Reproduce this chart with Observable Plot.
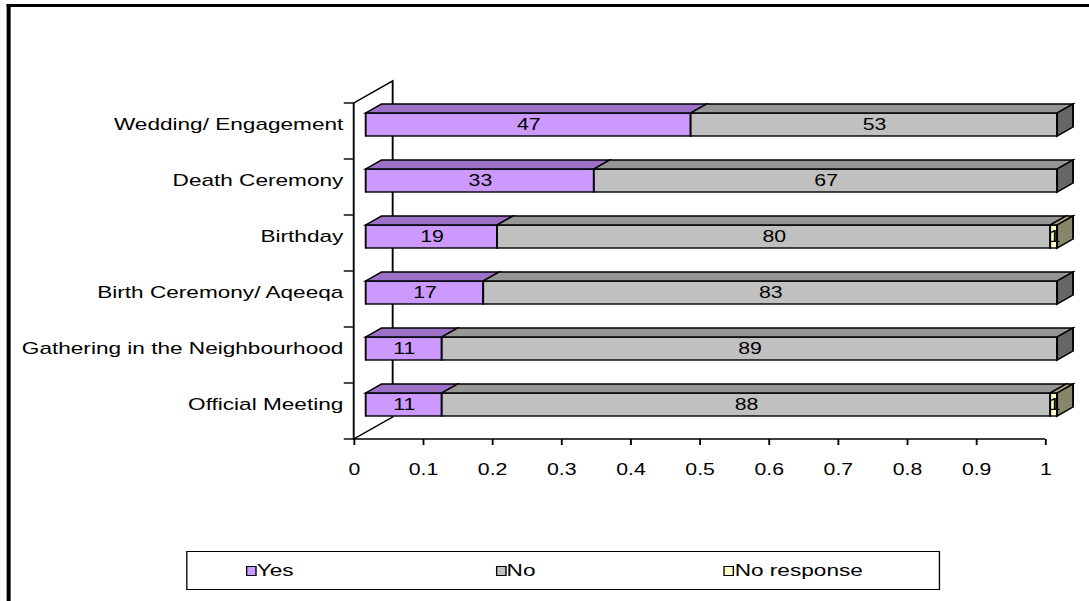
<!DOCTYPE html>
<html>
<head>
<meta charset="utf-8">
<script src="https://cdn.jsdelivr.net/npm/d3@7"></script>
<script src="https://cdn.jsdelivr.net/npm/@observablehq/plot@0.6"></script>
<style>
  html, body { margin: 0; padding: 0; background: #fff; overflow: hidden; }
  #wrap { position: relative; width: 819px; height: 601px; transform: scaleX(1.3297); transform-origin: 0 0;
          font-family: "Liberation Sans", Arial, sans-serif; }
  #chart { position: absolute; left: 0; top: 0; }
  #frame { position: absolute; left: 4.5px; top: 4px; width: 2000px; height: 2000px;
           border-left: 3px solid #000; border-top: 3px solid #000; pointer-events: none; }
  #legend { position: absolute; left: 140px; top: 551px; width: 565px; height: 37px;
            border: 1.5px solid #000; background: #fff; }
  .sw { position: absolute; top: 13.5px; width: 8px; height: 10.5px; box-sizing: border-box; border: 1.5px solid #000; }
  .lb { position: absolute; top: 9px; font-size: 17px; line-height: 20px; white-space: nowrap; color: #000; }
</style>
</head>
<body>
<div id="wrap">
  <div id="chart"></div>
  <div id="legend"></div>
  <div id="frame"></div>
</div>
<script>
// ---- data ----
const categories = [
  "Wedding/ Engagement",
  "Death Ceremony",
  "Birthday",
  "Birth Ceremony/ Aqeeqa",
  "Gathering in the Neighbourhood",
  "Official Meeting"
];
const yesValues = [47, 33, 19, 17, 11, 11];
const noValues = [53, 67, 80, 83, 89, 88];
const noResponseValues = [0, 0, 1, 0, 0, 1];
const seriesNames = ["Yes", "No", "No response"];
const xTicks = [0, 0.1, 0.2, 0.3, 0.4, 0.5, 0.6, 0.7, 0.8, 0.9, 1];

// ---- styles ----
const frontColor = {"Yes": "#CC99FF", "No": "#C0C0C0", "No response": "#FFFFCC"};
const topColor = {"Yes": "#9B72C8", "No": "#969696", "No response": "#A8A886"};
const sideColor = {"Yes": "#6C5187", "No": "#666666", "No response": "#86866A"};
const FDX = 9;            // front face offset
const DDX = 12, DDY = -9; // bar depth
const WDX = 29.3, WDY = -22; // wall depth
const INSET_TOP = 10, INSET_BOTTOM = 23;
const SW = 1.4;

// ---- stacked table ----
const rows = [];
categories.forEach((c, i) => {
  let acc = 0;
  [yesValues[i], noValues[i], noResponseValues[i]].forEach((v, k) => {
    rows.push({category: c, series: seriesNames[k], value: v, x1: acc / 100, x2: (acc + v) / 100});
    acc += v;
  });
});
const visible = rows.filter(d => d.value > 0);

function wallMark(index, scales, values, dims) {
  const {x, y} = scales;
  const top = dims.marginTop, bot = dims.height - dims.marginBottom;
  const x0 = x(0), xr = x(1);
  const g = d3.create("svg:g").attr("fill", "none").attr("stroke", "#000").attr("stroke-width", SW);
  g.append("path").attr("d", `M${x0},${top}L${x0 + WDX},${top + WDY}L${x0 + WDX},${bot + WDY}L${x0},${bot}`);
  g.append("path").attr("d", `M${x0},${top}V${bot}H${xr}`);
  const bounds = categories.map(c => y(c)).concat([bot]);
  bounds.forEach(b => g.append("line").attr("x1", x0 - 7.5).attr("x2", x0).attr("y1", b).attr("y2", b));
  return g.node();
}

function facesMark(index, scales, values, dims) {
  const {x, y} = scales;
  const top = dims.marginTop, bot = dims.height - dims.marginBottom;
  const bw = (bot - top) / categories.length;
  const g = d3.create("svg:g").attr("stroke", "#000").attr("stroke-width", SW).attr("stroke-linejoin", "miter");
  categories.forEach(c => {
    const segs = visible.filter(d => d.category === c);
    const yt = y(c) + INSET_TOP, yb = y(c) + bw - INSET_BOTTOM;
    segs.forEach(d => {
      const a = x(d.x1) + FDX, b = x(d.x2) + FDX;
      g.append("path").attr("fill", topColor[d.series])
        .attr("d", `M${a},${yt}L${b},${yt}L${b + DDX},${yt + DDY}L${a + DDX},${yt + DDY}Z`);
    });
    const last = segs[segs.length - 1];
    const e = x(last.x2) + FDX;
    g.append("path").attr("fill", sideColor[last.series])
      .attr("d", `M${e},${yt}L${e + DDX},${yt + DDY}L${e + DDX},${yb + DDY}L${e},${yb}Z`);
  });
  return g.node();
}

const chart = Plot.plot({
  width: 819,
  height: 545,
  marginLeft: 266,
  marginRight: 33,
  marginTop: 103,
  marginBottom: 106,
  style: {fontFamily: "'Liberation Sans', Arial, sans-serif", background: "transparent", color: "#000", overflow: "visible"},
  x: {domain: [0, 1], axis: null},
  y: {domain: categories, padding: 0, axis: null},
  color: {type: "identity"},
  marks: [
    wallMark,
    Plot.barX(visible, {
      x1: "x1", x2: "x2", y: "category",
      fill: d => frontColor[d.series],
      stroke: "#000", strokeWidth: SW,
      insetTop: INSET_TOP, insetBottom: INSET_BOTTOM, dx: FDX
    }),
    facesMark,
    Plot.text(visible, {
      x: d => (d.x1 + d.x2) / 2, y: "category", text: d => String(d.value),
      dx: FDX, dy: -6.5, fontSize: 16, fill: "#000"
    }),
    Plot.axisY({tickSize: 0, tickPadding: 8.3, dy: -6.5, fontSize: 17, fill: "#000", label: null}),
    Plot.axisX({ticks: xTicks, tickSize: 6, tickPadding: 18, strokeWidth: SW, label: null,
      tickFormat: d => String(+d.toFixed(1)), fontSize: 16, fill: "#000"})
  ]
});
document.getElementById("chart").appendChild(chart);

// ---- legend ----
const legendPos = [{sw: 43.5}, {sw: 231.5}, {sw: 403}];
const legend = document.getElementById("legend");
seriesNames.forEach((s, i) => {
  const sw = document.createElement("div");
  sw.className = "sw";
  sw.style.left = legendPos[i].sw + "px";
  sw.style.background = frontColor[s];
  legend.appendChild(sw);
  const lb = document.createElement("div");
  lb.className = "lb";
  lb.style.left = (legendPos[i].sw + 8.5) + "px";
  lb.textContent = s;
  legend.appendChild(lb);
});
</script>
</body>
</html>
